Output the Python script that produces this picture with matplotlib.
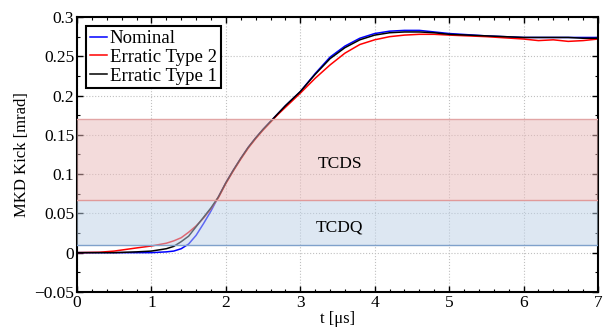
import matplotlib
matplotlib.use("Agg")
import matplotlib.pyplot as plt
from matplotlib.ticker import MultipleLocator

plt.rcParams['font.family'] = ['Liberation Serif', 'DejaVu Serif']

# time [us]
t = [0, 0.3, 0.5, 0.8, 1.0, 1.2, 1.3, 1.4, 1.5, 1.6, 1.7, 1.8, 1.9, 2.0, 2.1, 2.2,
     2.3, 2.4, 2.5, 2.6, 2.7, 2.8, 2.9, 3.0, 3.2, 3.4, 3.6, 3.8, 4.0, 4.2, 4.4,
     4.6, 4.8, 5.0, 5.5, 6.0, 6.2, 6.4, 6.6, 6.8, 7.0]

nominal = [0, 0, 0, 0, 0, 0.001, 0.002, 0.005, 0.011, 0.022, 0.037, 0.053, 0.071,
           0.089, 0.105, 0.120, 0.134, 0.146, 0.157, 0.167, 0.177, 0.187, 0.196,
           0.205, 0.228, 0.249, 0.263, 0.273, 0.279, 0.282, 0.283, 0.283, 0.281,
           0.279, 0.276, 0.274, 0.274, 0.274, 0.274, 0.274, 0.274]

erratic2 = [0, 0.0005, 0.002, 0.006, 0.0085, 0.012, 0.015, 0.019, 0.026, 0.034,
            0.044, 0.056, 0.070, 0.088, 0.104, 0.119, 0.133, 0.145, 0.156, 0.166,
            0.176, 0.185, 0.194, 0.203, 0.222, 0.239, 0.254, 0.265, 0.271, 0.275,
            0.277, 0.278, 0.278, 0.277, 0.275, 0.272, 0.270, 0.271, 0.269, 0.270,
            0.272]

erratic1 = [0, 0, 0, 0.001, 0.002, 0.005, 0.008, 0.014, 0.021, 0.033, 0.045,
            0.057, 0.071, 0.089, 0.105, 0.120, 0.134, 0.146, 0.157, 0.167, 0.177,
            0.187, 0.196, 0.205, 0.227, 0.247, 0.261, 0.271, 0.277, 0.280, 0.281,
            0.281, 0.280, 0.278, 0.276, 0.274, 0.274, 0.274, 0.274, 0.273, 0.273]

# protection windows [mrad]
tcds = (0.067, 0.17)
tcdq = (0.01, 0.067)

fig = plt.figure(figsize=(6.04, 3.34), dpi=100)
ax = fig.add_axes([0.1275, 0.126, 0.8625, 0.823])

ax.plot(t, nominal, color='blue', lw=1.1, label='Nominal', zorder=2)
ax.plot(t, erratic2, color='red', lw=1.1, label='Erratic Type 2', zorder=2)
ax.plot(t, erratic1, color='black', lw=1.1, label='Erratic Type 1', zorder=2)

ax.axhspan(tcds[0], tcds[1], facecolor=(0.914, 0.725, 0.725), alpha=0.5,
           edgecolor='none', zorder=3)
ax.axhspan(tcdq[0], tcdq[1], facecolor=(0.741, 0.82, 0.906), alpha=0.5,
           edgecolor='none', zorder=3)
ax.axhline(tcds[1], color='#e2a5a5', lw=1.0, zorder=3)
ax.axhline(tcds[0], color='#e09a9a', lw=1.0, zorder=3)
ax.axhline(tcdq[0], color='#7fa1cb', lw=1.0, zorder=3)

ax.text(3.53, 0.113, 'TCDS', ha='center', va='center', fontsize=12.5, zorder=4)
ax.text(3.53, 0.032, 'TCDQ', ha='center', va='center', fontsize=12.5, zorder=4)

ax.set_xlim(0, 7)
ax.set_ylim(-0.05, 0.3)
ax.xaxis.set_major_locator(MultipleLocator(1))
ax.xaxis.set_minor_locator(MultipleLocator(0.2))
ax.yaxis.set_minor_locator(MultipleLocator(0.025))
ax.set_yticks([-0.05, 0, 0.05, 0.1, 0.15, 0.2, 0.25, 0.3])
ax.set_yticklabels(['\u22120.05', '0', '0.05', '0.1', '0.15', '0.2', '0.25', '0.3'])
ax.tick_params(which='both', direction='in', top=True, right=True, labelsize=12.5,
               pad=2)
ax.tick_params(which='major', length=4, width=1)
ax.tick_params(which='minor', length=2.5, width=0.8)
ax.grid(True, which='major', linestyle=':', color='#c0c0c0', lw=0.8)
for s in ax.spines.values():
    s.set_linewidth(1.5)

ax.set_xlabel('t [\u03bcs]', fontsize=12, labelpad=0)
ax.set_ylabel('MKD Kick [mrad]', fontsize=12, labelpad=3)

leg = ax.legend(loc='upper left', fontsize=13.5, fancybox=False, framealpha=1,
                edgecolor='black', handlelength=0.9, handletextpad=0.15,
                borderpad=0.2, labelspacing=0.08, borderaxespad=0.5)
leg.get_frame().set_linewidth(1.5)
leg.set_zorder(5)

fig.savefig('out.png', dpi=100)
